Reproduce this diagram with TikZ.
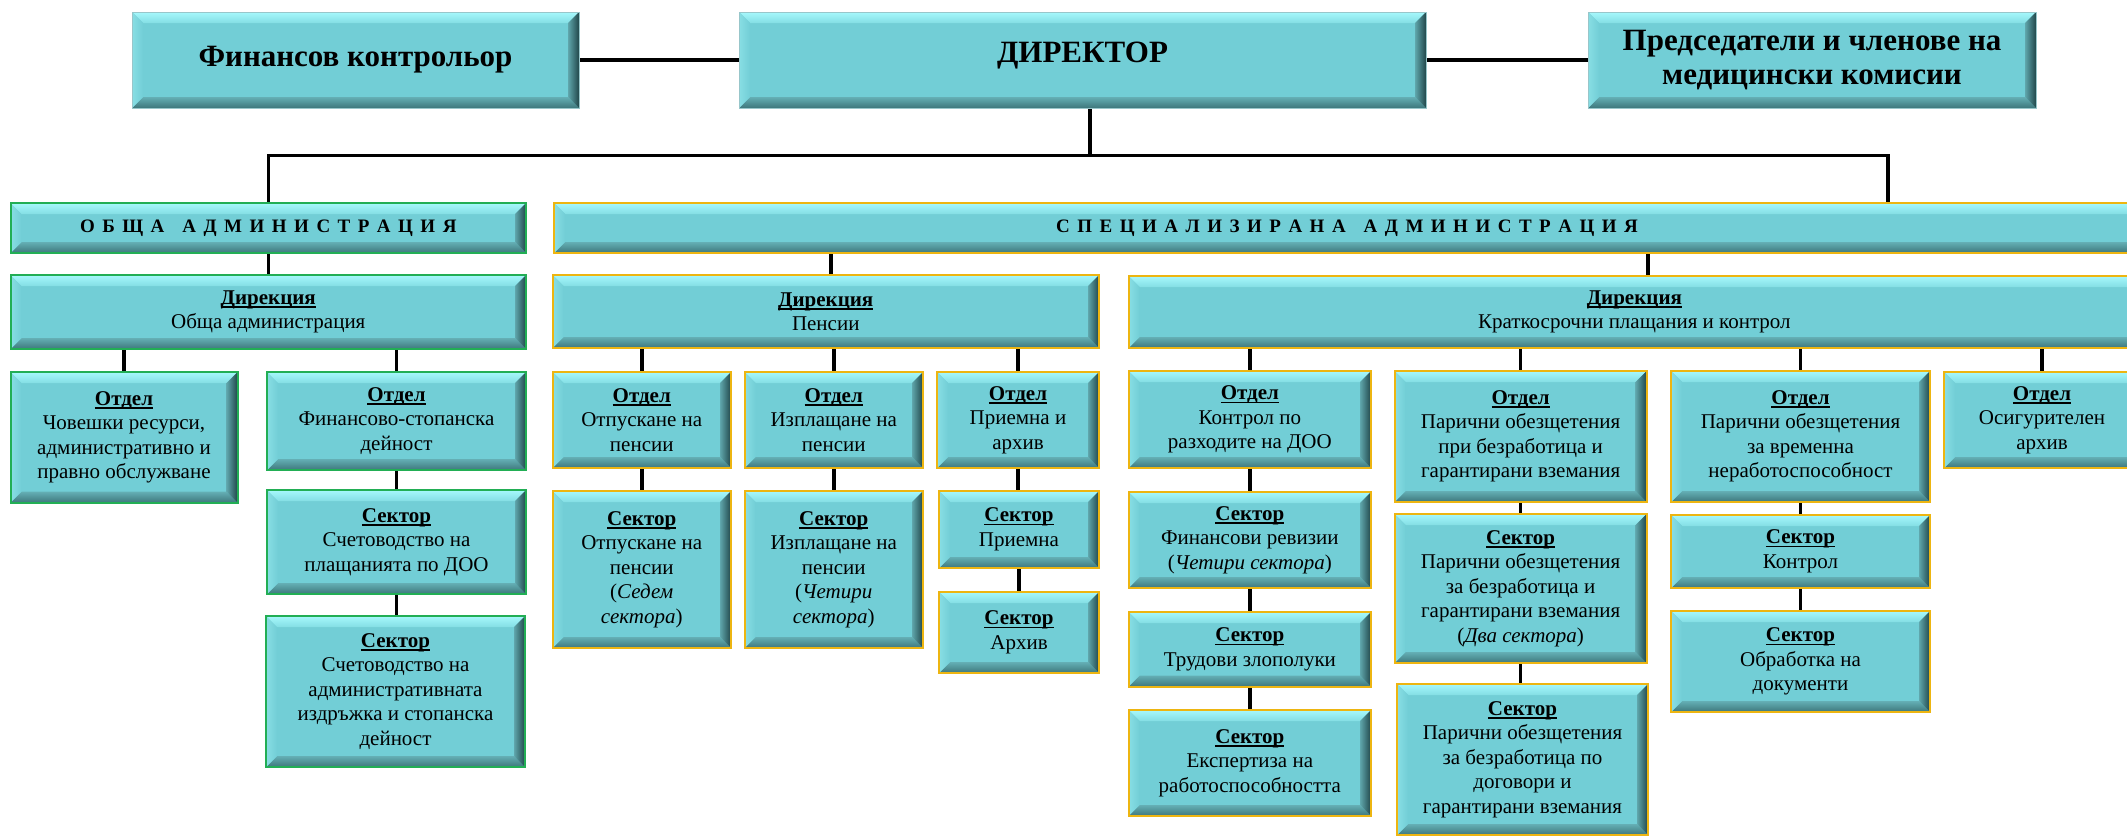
\documentclass[tikz,border=0pt]{standalone}
\usepackage{fontspec}
\setmainfont{Liberation Serif}
\usetikzlibrary{calc}
\pgfdeclarelayer{background}
\pgfsetlayers{background,main}
\definecolor{tbase}{HTML}{72CED6}
\definecolor{tlight}{HTML}{A6F8FC}
\definecolor{tmid}{HTML}{84DEE4}
\definecolor{tdka}{HTML}{64AFB5}
\definecolor{tdkb}{HTML}{3E777B}
\definecolor{tlefta}{HTML}{88DEE4}
\definecolor{tra}{HTML}{5FA6AC}
\definecolor{trb}{HTML}{21474A}
\definecolor{gbord}{HTML}{22AE55}
\definecolor{ybord}{HTML}{EDB511}
\definecolor{tbord}{HTML}{98C6CA}
\newsavebox\hdbox
\newcommand\hd[1]{\sbox\hdbox{\bfseries #1}\leavevmode\hbox{\rlap{\rule[-3.5pt]{\wd\hdbox}{1.6pt}}\usebox\hdbox}}
\newcommand\ltsp{\hspace{7.5pt}}
\newcommand\wdsp{\hspace{18pt}}
\newcommand\bxn[7]{%
  \pgfmathsetmacro\bxw{#4-#2}%
  \pgfmathsetmacro\bxh{#5-#3}%
  \node[#6, minimum width=\bxw pt, minimum height=\bxh pt] (#1) at ({(#2+#4)/2},{(#3+#5)/2}) {#7};%
}
\def\bev{11pt}
\tikzset{
  bevbox/.style={rectangle, inner sep=0pt, align=center, fill=tbase, text=black,
    font=\fontsize{21}{24.5}\selectfont,
    path picture={
      \coordinate (qa) at (path picture bounding box.north west);
      \coordinate (qb) at (path picture bounding box.north east);
      \coordinate (qc) at (path picture bounding box.south east);
      \coordinate (qd) at (path picture bounding box.south west);
      \shade[top color=tlight, bottom color=tmid] (qa) -- (qb) -- ([xshift=-\bev,yshift=-\bev]qb) -- ([xshift=\bev,yshift=-\bev]qa) -- cycle;
      \shade[top color=tdka, bottom color=tdkb] ([xshift=\bev,yshift=\bev]qd) -- ([xshift=-\bev,yshift=\bev]qc) -- (qc) -- (qd) -- cycle;
      \shade[left color=tlefta, right color=tbase] (qa) -- ([xshift=\bev,yshift=-\bev]qa) -- ([xshift=\bev,yshift=\bev]qd) -- (qd) -- cycle;
      \shade[left color=tra, right color=trb] (qb) -- (qc) -- ([xshift=-\bev,yshift=\bev]qc) -- ([xshift=-\bev,yshift=-\bev]qb) -- cycle;
    }},
  topbox/.style={bevbox, draw=tbord, line width=1pt, font=\fontsize{31}{34}\selectfont\bfseries},
  gbox/.style={bevbox, draw=gbord, line width=2pt},
  ybox/.style={bevbox, draw=ybord, line width=2pt},
  barfont/.style={font=\fontsize{19}{22}\selectfont\bfseries},
  conn/.style={draw=black, line width=3.5pt},
}
\begin{document}
\begin{tikzpicture}[x=1pt,y=-1pt]
\useasboundingbox (0,0) rectangle (2127,838);
\clip (0,0) rectangle (2127,838);
% top row
\bxn{fin}{132}{12}{579}{108}{topbox}{Финансов контрольор}
\bxn{dir}{739}{12}{1426}{108}{topbox}{\raisebox{4pt}[\height][\depth]{ДИРЕКТОР}}
\bxn{pred}{1588}{12}{2036}{108}{topbox}{Председатели и членове на\\медицински комисии}
% administrations
\bxn{obsh}{10.5}{203}{526}{253}{gbox,barfont}{О\ltsp Б\ltsp Щ\ltsp А\wdsp А\ltsp Д\ltsp М\ltsp И\ltsp Н\ltsp И\ltsp С\ltsp Т\ltsp Р\ltsp А\ltsp Ц\ltsp И\ltsp Я}
\bxn{spec}{554}{203}{2140}{253}{ybox,barfont}{С\ltsp П\ltsp Е\ltsp Ц\ltsp И\ltsp А\ltsp Л\ltsp И\ltsp З\ltsp И\ltsp Р\ltsp А\ltsp Н\ltsp А\wdsp А\ltsp Д\ltsp М\ltsp И\ltsp Н\ltsp И\ltsp С\ltsp Т\ltsp Р\ltsp А\ltsp Ц\ltsp И\ltsp Я}
% directorates
\bxn{dO}{10.5}{275}{526}{349}{gbox}{\hd{Дирекция}\\Обща администрация}
\bxn{dP}{552.5}{275}{1099}{348}{ybox}{\hd{Дирекция}\\Пенсии}
\bxn{dK}{1128.7}{276}{2140}{348}{ybox}{\hd{Дирекция}\\Краткосрочни плащания и контрол}
% general administration
\bxn{oChov}{10.5}{372}{237.5}{502.7}{gbox}{\hd{Отдел}\\Човешки ресурси,\\административно и\\правно обслужване}
\bxn{oFin}{267}{372}{526}{470}{gbox}{\hd{Отдел}\\Финансово-стопанска\\дейност}
\bxn{sSchA}{267}{490}{526}{594}{gbox}{\hd{Сектор}\\Счетоводство на\\плащанията по ДОО}
\bxn{sSchB}{266}{616}{525}{767}{gbox}{\hd{Сектор}\\Счетоводство на\\административната\\издръжка и стопанска\\дейност}
% pensions
\bxn{oOtp}{552.5}{372}{731}{468}{ybox}{\hd{Отдел}\\Отпускане на\\пенсии}
\bxn{oIzp}{744.5}{372}{923}{468}{ybox}{\hd{Отдел}\\Изплащане на\\пенсии}
\bxn{oPri}{937}{372}{1099}{468}{ybox}{\hd{Отдел}\\Приемна и\\архив}
\bxn{sOtp}{552.5}{491}{731}{648}{ybox}{\hd{Сектор}\\Отпускане на\\пенсии\\(\textit{Седем}\\\textit{сектора})}
\bxn{sIzp}{744.5}{491}{923}{648}{ybox}{\hd{Сектор}\\Изплащане на\\пенсии\\(\textit{Четири}\\\textit{сектора})}
\bxn{sPri}{939}{491}{1099}{568}{ybox}{\hd{Сектор}\\Приемна}
\bxn{sArh}{939}{592}{1099}{673}{ybox}{\hd{Сектор}\\Архив}
% short-term payments
\bxn{oKon}{1128.7}{371}{1371}{468}{ybox}{\hd{Отдел}\\Контрол по\\разходите на ДОО}
\bxn{oPB}{1394.7}{371}{1646.5}{502}{ybox}{\hd{Отдел}\\Парични обезщетения\\при безработица и\\гарантирани вземания}
\bxn{oPV}{1671}{371}{1930}{502}{ybox}{\hd{Отдел}\\Парични обезщетения\\за временна\\неработоспособност}
\bxn{oOsi}{1944}{372}{2140}{468}{ybox}{\hd{Отдел}\\Осигурителен\\архив}
\bxn{sRev}{1128.7}{492}{1371}{588}{ybox}{\hd{Сектор}\\Финансови ревизии\\(\textit{Четири сектора})}
\bxn{sTru}{1128.7}{612}{1371}{686.5}{ybox}{\hd{Сектор}\\Трудови злополуки}
\bxn{sEks}{1128.7}{710}{1371}{816}{ybox}{\hd{Сектор}\\Експертиза на\\работоспособността}
\bxn{sPBA}{1394.7}{514}{1646.5}{663}{ybox}{\hd{Сектор}\\Парични обезщетения\\за безработица и\\гарантирани вземания\\(\textit{Два сектора})}
\bxn{sPBB}{1397}{684}{1648}{835}{ybox}{\hd{Сектор}\\Парични обезщетения\\за безработица по\\договори и\\гарантирани вземания}
\bxn{sKon}{1671}{515}{1930}{588}{ybox}{\hd{Сектор}\\Контрол}
\bxn{sObr}{1671}{611}{1930}{712}{ybox}{\hd{Сектор}\\Обработка на\\документи}
% connectors
\coordinate (bus) at (1090,155.7);
\begin{pgfonlayer}{background}
\draw[conn] (fin.east) -- (dir.west);
\draw[conn] (dir.east) -- (pred.west);
\draw[conn] (bus |- dir.south) -- (bus);
\draw[conn] (obsh.north) |- (bus) -| ([xshift=541pt]spec.north);
\draw[conn] (obsh.south) -- (dO.north);
\draw[conn] ([xshift=5pt]dP.north) -- ([xshift=5pt]spec.south -| dP.north);
\draw[conn] ([xshift=13.6pt]dK.north) -- ([xshift=13.6pt]spec.south -| dK.north);
\foreach \p/\c in {dO/oChov, dO/oFin, dP/oOtp, dP/oIzp, dP/oPri, dK/oKon, dK/oPB, dK/oPV, dK/oOsi}
  \draw[conn] (\c.north |- \p.south) -- (\c.north);
\foreach \p/\c in {oFin/sSchA, sSchA/sSchB, oOtp/sOtp, oIzp/sIzp, oPri/sPri, sPri/sArh, oKon/sRev, sRev/sTru, sTru/sEks, oPB/sPBA, sPBA/sPBB, oPV/sKon, sKon/sObr}
  \draw[conn] (\p.south) -- (\p.south |- \c.north);
\end{pgfonlayer}
\end{tikzpicture}
\end{document}
